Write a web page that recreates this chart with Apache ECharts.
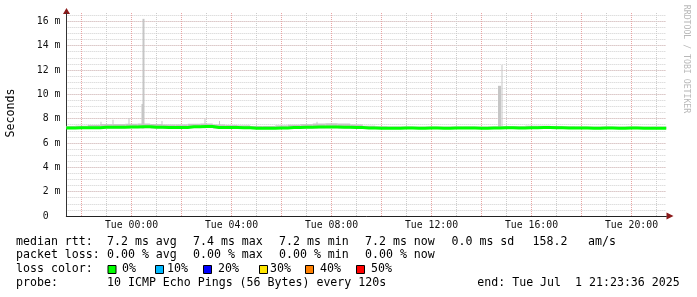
<!DOCTYPE html>
<html><head><meta charset="utf-8">
<script src="https://cdn.jsdelivr.net/npm/echarts@6/dist/echarts.min.js"></script>
<style>html,body{margin:0;padding:0;background:#fff}#c{width:697px;height:297px}</style>
</head><body><div id="c"></div><script>
// ---- data (hours relative to Tue 00:00, values in ms) ----
const xStartHour = -2.6067;   // Mon 21:23:36
const xEndHour = 21.3933;     // Tue 21:23:36
const yMaxMs = 16.68;
const xTickHours = [0, 4, 8, 12, 16, 20];
const xTickLabels = ['Tue 00:00', 'Tue 04:00', 'Tue 08:00', 'Tue 12:00', 'Tue 16:00', 'Tue 20:00'];
const yTickValues = [0, 2, 4, 6, 8, 10, 12, 14, 16];
const yTickLabels = ['0  ', '2 m', '4 m', '6 m', '8 m', '10 m', '12 m', '14 m', '16 m'];
const majorGridHours = [-2, 0, 2, 4, 6, 8, 10, 12, 14, 16, 18, 20];
const minorGridHours = [-1, 1, 3, 5, 7, 9, 11, 13, 15, 17, 19, 21];

const medianHours = [-2.61, -2.5, -2.0, -1.5, -1.0, -0.5, 0.0, 0.5, 1.0, 1.5, 2.0, 2.5, 3.0, 3.5, 4.0, 4.5, 5.0, 5.5, 6.0, 6.5,
  7.0, 7.5, 8.0, 8.5, 9.0, 9.5, 10.0, 10.5, 11.0, 11.5, 12.0, 12.5, 13.0, 13.5, 14.0, 14.5, 15.0, 15.5, 16.0, 16.5,
  17.0, 17.5, 18.0, 18.5, 19.0, 19.5, 20.0, 20.5, 21.0, 21.39];
const medianMs = [7.24, 7.24, 7.25, 7.26, 7.30, 7.29, 7.32, 7.34, 7.30, 7.28, 7.27, 7.33, 7.35, 7.28, 7.27, 7.25, 7.22, 7.22, 7.24, 7.27,
  7.30, 7.31, 7.32, 7.30, 7.28, 7.24, 7.22, 7.22, 7.23, 7.22, 7.23, 7.22, 7.24, 7.23, 7.22, 7.23, 7.25, 7.24, 7.26, 7.27,
  7.25, 7.24, 7.23, 7.22, 7.23, 7.22, 7.23, 7.22, 7.22, 7.22];

const smokeHours = [-2.5, -2.0, -1.5, -1.0, -0.5, 0.0, 0.5, 1.0, 1.5, 2.0, 2.5, 3.0, 3.5, 4.0, 4.5, 5.0, 5.5, 6.0, 6.5,
  7.0, 7.5, 8.0, 8.5, 9.0, 9.5, 10.0, 10.5, 11.0, 11.5, 12.0, 12.5, 13.0, 13.5, 14.0, 14.5, 15.0, 15.5, 16.0, 16.5,
  17.0, 17.5, 18.0, 18.5, 19.0, 19.5, 20.0, 20.5, 21.0, 21.5];
const smokeHighMs = [7.40, 7.42, 7.48, 7.55, 7.55, 7.58, 7.60, 7.56, 7.52, 7.52, 7.58, 7.60, 7.52, 7.48, 7.45, 7.40, 7.40, 7.45, 7.50,
  7.55, 7.60, 7.62, 7.60, 7.52, 7.42, 7.38, 7.36, 7.36, 7.35, 7.36, 7.35, 7.36, 7.36, 7.35, 7.36, 7.38, 7.38, 7.42, 7.42,
  7.40, 7.37, 7.36, 7.35, 7.36, 7.35, 7.36, 7.35, 7.35, 7.35];
const smokeLowMs = [7.18, 7.18, 7.18, 7.20, 7.20, 7.22, 7.22, 7.20, 7.19, 7.19, 7.22, 7.24, 7.19, 7.18, 7.17, 7.15, 7.15, 7.16, 7.18,
  7.20, 7.21, 7.22, 7.20, 7.19, 7.16, 7.15, 7.15, 7.15, 7.15, 7.15, 7.15, 7.16, 7.15, 7.15, 7.15, 7.17, 7.16, 7.18, 7.19,
  7.17, 7.16, 7.15, 7.15, 7.15, 7.15, 7.15, 7.15, 7.15, 7.15];

const spikeStartHours = [-1.24, -0.76, -0.12, 0.40, 0.44, 1.20, 2.92, 3.50, 7.40, 14.66, 14.80];
const spikeEndHours   = [-1.20, -0.72, -0.08, 0.48, 0.52, 1.24, 2.96, 3.54, 7.44, 14.78, 14.84];
const spikeHighMs     = [7.75, 7.90, 8.05, 9.20, 16.20, 7.80, 8.00, 7.80, 7.75, 10.70, 12.40];

const rttStats = ['7.2 ms avg', '7.4 ms max', '7.2 ms min', '7.2 ms now', '0.0 ms sd', '158.2', 'am/s'];
const lossStats = ['0.00 % avg', '0.00 % max', '0.00 % min', '0.00 % now'];
const lossLabels = ['0%', '10%', '20%', '30%', '40%', '50%'];
const lossColors = ['#00ff00', '#00b8ff', '#0000ff', '#ffe600', '#ff8000', '#ff0000'];
const probeText = '10 ICMP Echo Pings (56 Bytes) every 120s';
const endText = 'end: Tue Jul  1 21:23:36 2025';

// ---- build ----
const MONO = '"DejaVu Sans Mono", monospace';
const MAJOR_COLOR = '#eaa4a4';
const MINOR_COLOR = '#cccccc';
const smokeItems = [];
const halfBin = 0.25;
smokeHours.forEach((h, i) => smokeItems.push([h - halfBin, h + halfBin, smokeLowMs[i], smokeHighMs[i]]));
spikeStartHours.forEach((h, i) => smokeItems.push([h, spikeEndHours[i], 7.2, spikeHighMs[i]]));
const vGridItems = minorGridHours.map(h => [h, 0]).concat(majorGridHours.map(h => [h, 1]));

const graphics = [];
function txt(x, y, s) {
  graphics.push({type: 'text', x: x, y: y, silent: true,
    style: {text: s, font: '11.6px ' + MONO, fill: '#000', verticalAlign: 'middle'}});
}
const rowY = [241.5, 255.3, 269.3, 283.3];
txt(16, rowY[0], 'median rtt:');
[107, 193, 279, 365, 451.5, 532.5, 588].forEach((x, i) => txt(x, rowY[0], rttStats[i]));
txt(16, rowY[1], 'packet loss:');
[107, 193, 279, 365].forEach((x, i) => txt(x, rowY[1], lossStats[i]));
txt(16, rowY[2], 'loss color:');
const sqX = [108, 155.5, 203.5, 259.5, 305.5, 356.5];
const lblX = [122, 167, 218, 270, 320, 371];
sqX.forEach((x, i) => {
  graphics.push({type: 'rect', silent: true, shape: {x: x, y: 265.5, width: 8, height: 8},
    style: {fill: lossColors[i], stroke: '#000', lineWidth: 1}});
  txt(lblX[i], rowY[2], lossLabels[i]);
});
txt(16, rowY[3], 'probe:');
txt(107, rowY[3], probeText);
txt(477.3, rowY[3], endText);
graphics.push({type: 'text', x: 11, y: 113, rotation: Math.PI / 2, silent: true,
  style: {text: 'Seconds', font: '11.6px ' + MONO, fill: '#000', align: 'center', verticalAlign: 'middle'}});
graphics.push({type: 'text', x: 686, y: 59, rotation: -Math.PI / 2, silent: true,
  style: {text: 'RRDTOOL / TOBI OETIKER', font: '8.2px ' + MONO, fill: '#b8b8b8', align: 'center', verticalAlign: 'middle'}});
graphics.push({type: 'polygon', silent: true, shape: {points: [[666.5, 212.5], [673.5, 216], [666.5, 219.5]]}, style: {fill: '#8b1a1a'}});
graphics.push({type: 'polygon', silent: true, shape: {points: [[63, 14], [70, 14], [66.5, 8]]}, style: {fill: '#8b1a1a'}});

const chart = echarts.init(document.getElementById('c'), null, {renderer: 'canvas'});
chart.setOption({
  animation: false,
  backgroundColor: '#ffffff',
  grid: {left: 66.33, right: 30.67, top: 13, bottom: 81, containLabel: false},
  xAxis: {
    type: 'value', min: xStartHour, max: xEndHour,
    axisLine: {show: true, onZero: false, lineStyle: {color: '#222', width: 1}},
    axisTick: {show: false},
    splitLine: {show: false},
    axisLabel: {customValues: xTickHours, margin: 4, fontFamily: MONO, fontSize: 9.8, color: '#111',
      formatter: v => xTickLabels[xTickHours.indexOf(Math.round(v))]}
  },
  yAxis: [{
    type: 'value', min: 0, max: yMaxMs, interval: 2,
    axisLine: {show: true, onZero: false, lineStyle: {color: '#333', width: 1}},
    axisTick: {show: false},
    splitLine: {show: true, showMaxLine: false, lineStyle: {color: MAJOR_COLOR, type: [1, 1], width: 1}},
    axisLabel: {showMaxLabel: false, margin: 6, fontFamily: MONO, fontSize: 9.8, color: '#111',
      formatter: v => { const i = yTickValues.indexOf(Math.round(v)); return i >= 0 ? yTickLabels[i] : ''; }}
  }, {
    type: 'value', min: 0, max: yMaxMs, interval: 0.5, position: 'left',
    axisLine: {show: false, onZero: false}, axisTick: {show: false}, axisLabel: {show: false},
    splitLine: {show: true, showMaxLine: false, lineStyle: {color: '#d0d0d0', type: [1, 1], width: 1}}
  }],
  graphic: graphics,
  series: [
    {
      type: 'custom', z: 1, silent: true, data: vGridItems,
      encode: {x: 0},
      renderItem: (params, api) => {
        const cs = params.coordSys;
        const p = api.coord([api.value(0), 0]);
        const x = Math.round(p[0] - 0.5) + 0.5;
        return {type: 'line', shape: {x1: x, y1: cs.y, x2: x, y2: cs.y + cs.height},
          style: {stroke: api.value(1) ? MAJOR_COLOR : MINOR_COLOR, lineWidth: 1, lineDash: [1, 1]}};
      }
    },
    {
      type: 'custom', z: 3, silent: true, data: smokeItems,
      encode: {x: [0, 1], y: [2, 3]},
      renderItem: (params, api) => {
        const p0 = api.coord([api.value(0), api.value(3)]);
        const p1 = api.coord([api.value(1), api.value(2)]);
        const cs = params.coordSys;
        const shape = echarts.graphic.clipRectByRect(
          {x: p0[0], y: p0[1], width: p1[0] - p0[0], height: p1[1] - p0[1]},
          {x: cs.x, y: cs.y, width: cs.width, height: cs.height});
        return shape && {type: 'rect', shape: shape, style: {fill: '#c6c6c6'}};
      }
    }, {
      type: 'line', z: 4, silent: true, symbol: 'none', step: 'middle',
      data: medianHours.map((h, i) => [h, medianMs[i]]),
      lineStyle: {color: '#00ff00', width: 3}
    }]
});
</script></body></html>
